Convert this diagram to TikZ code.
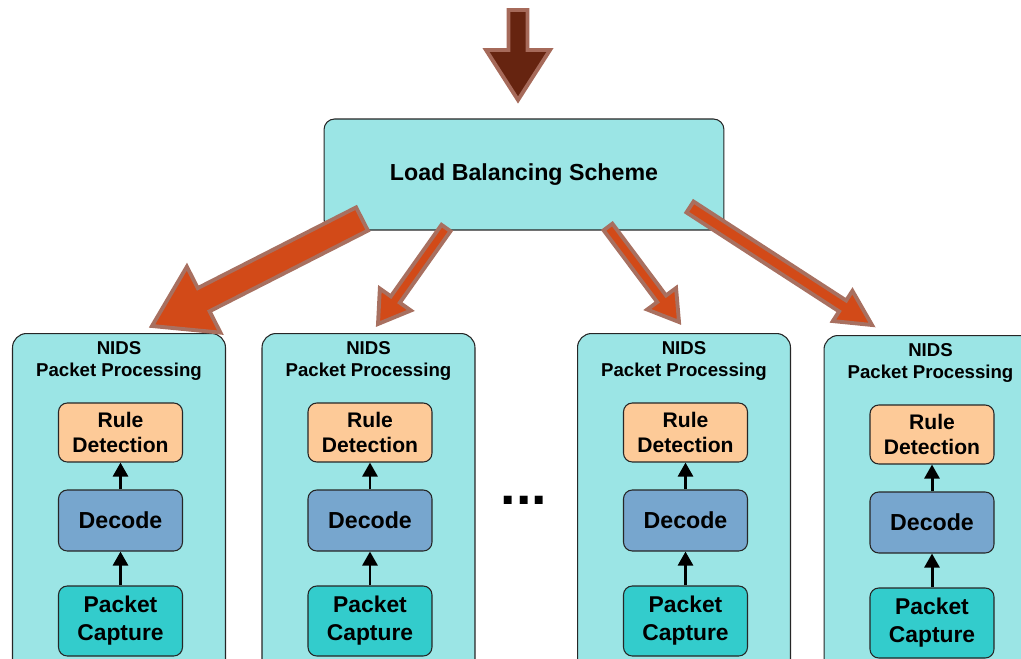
\documentclass[tikz,border=0pt]{standalone}
\usepackage{fontspec}
\setmainfont{Liberation Sans}
\usetikzlibrary{calc,arrows.meta}

\definecolor{panelcyan}{HTML}{9BE5E5}
\definecolor{rulepeach}{HTML}{FDCA98}
\definecolor{decodeblue}{HTML}{77A6CE}
\definecolor{capteal}{HTML}{33CCCC}
\definecolor{flowred}{HTML}{D24A18}
\definecolor{flowedge}{HTML}{A87060}
\definecolor{inbrown}{HTML}{662410}
\definecolor{inedge}{HTML}{A66A5A}

\tikzset{
  panel/.style={draw=black!85, fill=panelcyan, rounded corners=6pt, line width=0.6pt},
  stage/.style={draw=black!85, rounded corners=5pt, minimum width=2.48cm, align=center, line width=0.6pt},
  flow/.style={fill=flowred, draw=flowedge, line width=2.2pt, line join=miter},
  stagelink/.style={-{Triangle[width=8.5pt,length=8pt]}, line width=1.7pt},
}

% [style] tail, tip, shaft half-width, head half-width, head length (px)
\newcommand{\blockarrow}[6][]{%
  \coordinate (ba-n) at ($(#3)!#6*0.02cm!(#2)$);
  \draw[#1] ($(#2)!#4*0.02cm!90:(#3)$) -- ($(ba-n)!#4*0.02cm!90:(#3)$)
    -- ($(ba-n)!#5*0.02cm!90:(#3)$) -- (#3) -- ($(ba-n)!#5*0.02cm!-90:(#3)$)
    -- ($(ba-n)!#4*0.02cm!-90:(#3)$) -- ($(#2)!#4*0.02cm!-90:(#3)$) -- cycle;
}

\begin{document}
\begin{tikzpicture}[x=0.02cm, y=-0.02cm]
  \useasboundingbox (0,0) rectangle (1021,659);
  \clip (0,0) rectangle (1021,659);

  \node[panel, minimum width=8cm, minimum height=2.22cm,
        font=\bfseries\fontsize{13.2}{16}\selectfont] (lb) at (524,174.5) {Load Balancing Scheme};

  % the four processing columns
  \foreach \n/\cx/\dy in {1/119/0, 2/368.5/0, 3/684/0, 4/930.5/2} {
    \node[panel, rounded corners=8pt, anchor=north, minimum width=4.26cm, minimum height=7cm] (nids\n) at (\cx,333+\dy) {};
    \node[font=\bfseries\fontsize{10.6}{12.5}\selectfont, align=center] (title\n) at (\cx,361+\dy) {NIDS\\Packet Processing};
    \node[stage, fill=rulepeach, minimum height=1.18cm, font=\bfseries\fontsize{12}{14.7}\selectfont] (rule\n) at (\cx+1.5,432.5+\dy) {Rule\\Detection};
    \node[stage, fill=decodeblue, minimum height=1.22cm, font=\bfseries\fontsize{13.2}{16}\selectfont] (dec\n) at (\cx+1.5,520.5+\dy) {Decode};
    \node[stage, fill=capteal, minimum height=1.4cm, font=\bfseries\fontsize{13}{16}\selectfont] (cap\n) at (\cx+1.5,621+\dy) {Packet\\Capture};
    \draw[stagelink] (cap\n) -- (dec\n);
    \draw[stagelink] (dec\n) -- (rule\n);
  }

  \node[font=\bfseries\fontsize{31.6}{32}\selectfont, anchor=base] (dots) at (524,504) {...};

  % incoming traffic
  \coordinate (in-tail) at (518,10);
  \coordinate (in-tip) at (518,100);
  \blockarrow[flow, fill=inbrown, draw=inedge]{in-tail}{in-tip}{9.5}{32}{50}

  % split to the columns
  \coordinate (a-tail) at (362,219);
  \coordinate (a-tip) at (152,326);
  \coordinate (b-tail) at (446,228);
  \coordinate (b-tip) at (378,324);
  \coordinate (c-tail) at (608,227);
  \coordinate (c-tip) at (679,322);
  \coordinate (d-tail) at (690,207);
  \coordinate (d-tip) at (872,325);
  \blockarrow[flow]{a-tail}{a-tip}{13}{37}{58}
  \blockarrow[flow]{b-tail}{b-tip}{5.5}{19}{30}
  \blockarrow[flow]{c-tail}{c-tip}{5.5}{18}{29}
  \blockarrow[flow]{d-tail}{d-tip}{6.5}{18}{35}
\end{tikzpicture}
\end{document}
